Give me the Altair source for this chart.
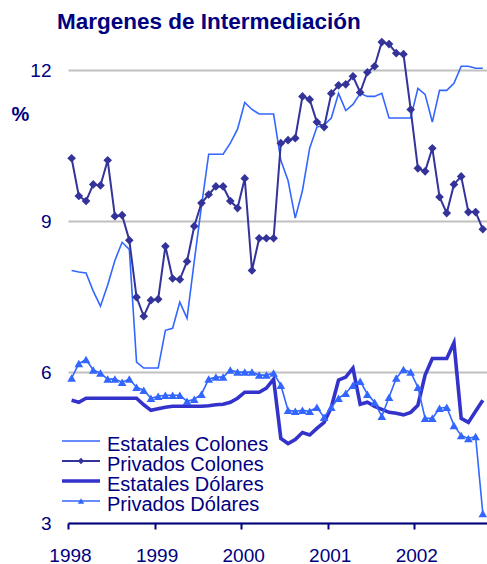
import altair as alt
import pandas as pd

# Monthly series, January 1998 to October 2002 (percent)
estatales_colones = [
    8.02, 7.99, 7.97, 7.61, 7.31, 7.73, 8.22, 8.58, 8.44, 6.20,
    6.08, 6.08, 6.08, 6.83, 6.87, 7.39, 7.07, 8.20, 9.30, 10.33,
    10.33, 10.33, 10.55, 10.83, 11.36, 11.22, 11.13, 11.13, 11.13, 10.21,
    9.81, 9.06, 9.61, 10.45, 10.87, 10.91, 11.05, 11.54, 11.20, 11.32,
    11.54, 11.48, 11.48, 11.54, 11.05, 11.05, 11.05, 11.05, 11.64, 11.52,
    10.97, 11.60, 11.60, 11.74, 12.08, 12.08, 12.04, 12.04,
]
privados_colones = [
    10.25, 9.50, 9.40, 9.73, 9.71, 10.21, 9.10, 9.12, 8.62, 7.49,
    7.11, 7.43, 7.45, 8.50, 7.86, 7.84, 8.20, 8.90, 9.36, 9.53,
    9.69, 9.69, 9.40, 9.26, 9.85, 8.02, 8.66, 8.66, 8.66, 10.55,
    10.61, 10.65, 11.48, 11.42, 10.97, 10.87, 11.54, 11.70, 11.72, 11.88,
    11.56, 11.96, 12.08, 12.56, 12.52, 12.34, 12.32, 11.22, 10.05, 9.99,
    10.45, 9.48, 9.16, 9.73, 9.89, 9.18, 9.18, 8.84,
]
estatales_dolares = [
    5.44, 5.40, 5.48, 5.48, 5.48, 5.48, 5.48, 5.48, 5.48, 5.48,
    5.35, 5.24, 5.27, 5.30, 5.32, 5.32, 5.32, 5.32, 5.32, 5.33,
    5.35, 5.36, 5.40, 5.48, 5.60, 5.60, 5.60, 5.68, 5.86, 4.68,
    4.58, 4.66, 4.80, 4.75, 4.88, 5.00, 5.30, 5.84, 5.90, 6.08,
    5.36, 5.40, 5.32, 5.26, 5.20, 5.18, 5.15, 5.20, 5.34, 5.94,
    6.27, 6.27, 6.27, 6.58, 5.08, 5.00, 5.22, 5.44,
]
privados_dolares = [
    5.88, 6.17, 6.25, 6.04, 5.98, 5.86, 5.86, 5.80, 5.86, 5.70,
    5.64, 5.48, 5.52, 5.54, 5.54, 5.54, 5.42, 5.46, 5.56, 5.86,
    5.90, 5.90, 6.04, 6.00, 6.00, 6.00, 5.94, 5.94, 5.98, 5.74,
    5.24, 5.22, 5.24, 5.22, 5.30, 5.10, 5.30, 5.48, 5.58, 5.74,
    5.82, 5.56, 5.40, 5.12, 5.50, 5.88, 6.05, 6.00, 5.70, 5.08,
    5.08, 5.28, 5.30, 4.94, 4.74, 4.68, 4.72, 3.19,
]

series_names = ["Estatales Colones", "Privados Colones", "Estatales Dólares", "Privados Dólares"]
series_values = [estatales_colones, privados_colones, estatales_dolares, privados_dolares]
year_ticks = [1998, 1999, 2000, 2001, 2002]
y_ticks = [3, 6, 9, 12]

NAVY = "#000080"
FONT = "Liberation Sans"

styles = {
    "Estatales Colones": dict(color="#3366FF", width=1.6, shape=None),
    "Privados Colones": dict(color="#333399", width=2.0, shape="diamond"),
    "Estatales Dólares": dict(color="#3333CC", width=3.6, shape=None),
    "Privados Dólares": dict(color="#3366FF", width=1.6, shape="triangle-up"),
}

x_scale = alt.Scale(domain=[1998, 2002.84], nice=False, zero=False)
y_scale = alt.Scale(domain=[3, 12.8], nice=False, zero=False)

x_axis = alt.Axis(values=year_ticks, format="d", title=None, grid=False,
                  domainColor=NAVY, domainWidth=2, tickColor=NAVY, tickWidth=2,
                  tickSize=6, labelFontSize=19, labelColor=NAVY, labelFont=FONT,
                  labelPadding=17, labelFlush=False, labelOffset=2)
y_axis = alt.Axis(values=y_ticks, title="%", grid=True, gridColor="#C0C0C0",
                  gridWidth=2, domain=False, ticks=False, labelFontSize=19,
                  labelColor=NAVY, labelFont=FONT, labelPadding=17,
                  titleAngle=0, titleFontSize=20, titleFont=FONT,
                  titleFontWeight="bold", titleColor=NAVY, titleAlign="center",
                  titleBaseline="middle", titleX=-48, titleY=84)

layers = []
for i, (name, vals) in enumerate(zip(series_names, series_values)):
    st = styles[name]
    df = pd.DataFrame({
        "fecha": [1998 + (m + 0.5) / 12 for m in range(len(vals))],
        "valor": vals,
    })
    enc = dict(
        x=alt.X("fecha:Q", scale=x_scale, axis=x_axis),
        y=alt.Y("valor:Q", scale=y_scale, axis=y_axis),
    )
    layers.append(
        alt.Chart(df).mark_line(color=st["color"], strokeWidth=st["width"],
                                strokeJoin="miter").encode(**enc)
    )
    if st["shape"]:
        layers.append(
            alt.Chart(df).mark_point(shape=st["shape"], filled=True, opacity=1,
                                     color=st["color"], size=75).encode(**enc)
        )

# Legend drawn inside the plot, lower left
leg_df = pd.DataFrame({"serie": series_names})
for i, name in enumerate(series_names):
    st = styles[name]
    row = alt.Chart(leg_df).transform_filter(alt.datum.serie == name)
    ly = 411 + 20 * i
    layers.append(
        row.mark_rule(color=st["color"], strokeWidth=st["width"]).encode(
            x=alt.value(-6), x2=alt.value(32), y=alt.value(ly))
    )
    if st["shape"]:
        layers.append(
            row.mark_point(shape=st["shape"], filled=True, opacity=1,
                           color=st["color"], size=40).encode(
                x=alt.value(13), y=alt.value(ly))
        )
    layers.append(
        row.mark_text(align="left", baseline="middle", fontSize=20, font=FONT,
                      color=NAVY).encode(
            x=alt.value(39), y=alt.value(ly + 3.5), text="serie:N")
    )

chart = alt.layer(*layers).properties(
    width=419,
    height=493,
    padding={"left": 68, "top": 30, "right": 0, "bottom": 41},
    autosize=alt.AutoSizeParams(type="none"),
    title=alt.TitleParams("Margenes de Intermediación", anchor="start",
                          frame="group", fontSize=22.5, fontWeight="bold",
                          color=NAVY, font=FONT, dx=-11, offset=-3),
).configure_view(stroke=None)

chart.save("out.html", embed_options={"renderer": "svg", "actions": False})
